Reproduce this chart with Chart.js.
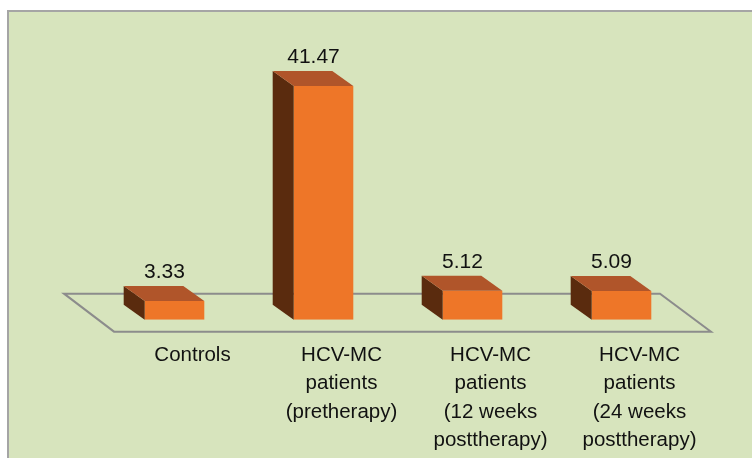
<!DOCTYPE html>
<html>
<head>
<meta charset="utf-8">
<script src="https://cdn.jsdelivr.net/npm/chart.js@4"></script>
<style>
  html, body { margin: 0; padding: 0; background: #fff; overflow: hidden; }
  #frame {
    position: absolute; left: 7px; top: 10px; width: 760px; height: 460px;
    background: #d7e4bd; border-left: 2px solid #a5a5a5; border-top: 2px solid #a5a5a5;
  }
  #areachart { position: absolute; left: 0; top: 0; }
</style>
</head>
<body>
<div id="frame"></div>
<canvas id="areachart" width="752" height="458"></canvas>
<script>
var groupNames = [
  "Controls",
  ["HCV-MC", "patients", "(pretherapy)"],
  ["HCV-MC", "patients", "(12 weeks", "posttherapy)"],
  ["HCV-MC", "patients", "(24 weeks", "posttherapy)"]
];
var meanValues = [3.33, 41.47, 5.12, 5.09];
var valueLabels = ["3.33", "41.47", "5.12", "5.09"];

// fake 3d: depth goes up and to the left
var depthX = -21, depthY = -15;

const box3d = {
  id: "box3d",
  beforeDatasetsDraw(chart) {
    let c = chart.ctx, xs = chart.scales.x, y0 = chart.scales.y.getPixelForValue(0);
    c.save();
    c.strokeStyle = "#8c8c8c";
    c.lineWidth = 2;
    c.beginPath();
    c.moveTo(xs.left - 36, y0 - 26);
    c.lineTo(xs.right - 36, y0 - 26);
    c.lineTo(xs.right + 15, y0 + 12);
    c.lineTo(xs.left + 14, y0 + 12);
    c.closePath();
    c.stroke();
    c.restore();
  },
  afterDatasetsDraw(chart) {
    let c = chart.ctx;
    let meta = chart.getDatasetMeta(0);
    c.save();
    meta.data.forEach((bar, i) => {
      let p = bar.getProps(["x", "y", "base", "width"], true);
      let x0 = p.x - p.width / 2, x1 = p.x + p.width / 2;
      // side
      c.fillStyle = "#5a2b0e";
      c.beginPath();
      c.moveTo(x0, p.y);
      c.lineTo(x0 + depthX, p.y + depthY);
      c.lineTo(x0 + depthX, p.base + depthY);
      c.lineTo(x0, p.base);
      c.closePath();
      c.fill();
      // top
      c.fillStyle = "#b0552a";
      c.beginPath();
      c.moveTo(x0, p.y);
      c.lineTo(x1, p.y);
      c.lineTo(x1 + depthX, p.y + depthY);
      c.lineTo(x0 + depthX, p.y + depthY);
      c.closePath();
      c.fill();
      // value label
      c.fillStyle = "#111";
      c.font = "21px 'Liberation Sans', Arial, sans-serif";
      c.textAlign = "center";
      c.textBaseline = "alphabetic";
      c.fillText(valueLabels[i], p.x - 10, p.y + depthY - 8);
    });
    c.restore();
  }
};

let ctx = document.getElementById("areachart").getContext("2d");

let chart = new Chart(ctx, {
  type: "bar",
  data: {
    labels: groupNames,
    datasets: [
      {
        data: meanValues,
        backgroundColor: "#ee7628",
        borderWidth: 0,
        categoryPercentage: 1.0,
        barPercentage: 0.4,
      },
    ],
  },
  options: {
    responsive: false,
    animation: false,
    layout: {
      padding: { left: 100, right: 56, top: 38, bottom: -18 }
    },
    plugins: {
      legend: { display: false },
      tooltip: { enabled: false },
    },
    scales: {
      x: {
        grid: { display: false, drawTicks: false },
        border: { display: false },
        ticks: {
          color: "#111",
          padding: 22,
          labelOffset: 18,
          maxRotation: 0,
          autoSkip: false,
          font: { family: "'Liberation Sans', Arial, sans-serif", size: 20.5, lineHeight: 1.37 },
        },
      },
      y: {
        display: false,
        min: 0,
        max: 50,
      },
    },
  },
  plugins: [box3d],
});
</script>
</body>
</html>
